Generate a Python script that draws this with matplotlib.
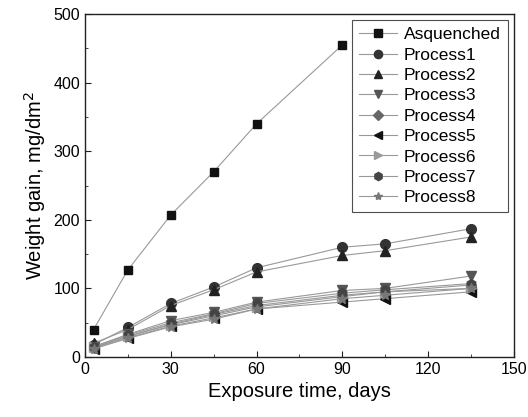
import matplotlib
matplotlib.use("Agg")
import matplotlib.pyplot as plt
from matplotlib.ticker import MultipleLocator

plt.rcParams['font.family'] = ['Liberation Sans', 'DejaVu Sans']

days = [3, 15, 30, 45, 60, 90, 105, 135]
days_aq = [3, 15, 30, 45, 60, 90]
asquenched = [40, 127, 207, 270, 340, 455]
process1 = [18, 43, 78, 102, 130, 160, 165, 187]
process2 = [20, 40, 75, 98, 124, 148, 155, 175]
process3 = [15, 33, 53, 65, 80, 97, 100, 118]
process4 = [13, 30, 48, 62, 75, 90, 95, 105]
process5 = [12, 28, 45, 57, 70, 80, 85, 95]
process6 = [14, 30, 47, 60, 73, 88, 95, 100]
process7 = [15, 32, 50, 63, 78, 93, 98, 107]
process8 = [12, 27, 44, 55, 70, 85, 90, 100]

series = [
    ("Asquenched", days_aq, asquenched, 's', '#111111', 6),
    ("Process1", days, process1, 'o', '#333333', 7),
    ("Process2", days, process2, '^', '#222222', 7),
    ("Process3", days, process3, 'v', '#555555', 7),
    ("Process4", days, process4, 'D', '#666666', 5.5),
    ("Process5", days, process5, '<', '#111111', 7),
    ("Process6", days, process6, '>', '#9a9a9a', 7),
    ("Process7", days, process7, 'h', '#444444', 7),
    ("Process8", days, process8, '*', '#777777', 7),
]

fig = plt.figure(figsize=(5.28, 4.17), dpi=100)
ax = fig.add_axes([0.161, 0.144, 0.812, 0.822])

for name, x, y, m, c, ms in series:
    ax.plot(x, y, marker=m, color='#999999', lw=0.8, markerfacecolor=c,
            markeredgecolor=c, markersize=ms, label=name)

ax.set_xlim(0, 150)
ax.set_ylim(0, 500)
ax.xaxis.set_major_locator(MultipleLocator(30))
ax.xaxis.set_minor_locator(MultipleLocator(15))
ax.yaxis.set_major_locator(MultipleLocator(100))
ax.yaxis.set_minor_locator(MultipleLocator(50))
ax.tick_params(which='both', direction='in', labelsize=11.5, color='#222222')
ax.tick_params(which='major', length=4)
ax.tick_params(which='minor', length=2.5)
for s in ax.spines.values():
    s.set_linewidth(1.0)
    s.set_color('#222222')

ax.set_xlabel("Exposure time, days", fontsize=14.5)
ax.set_ylabel("Weight gain, mg/dm$^2$", fontsize=14.5)

leg = ax.legend(loc='upper right', fontsize=12.5, frameon=True, fancybox=False,
                edgecolor='#222222', handlelength=2.2, borderpad=0.4,
                labelspacing=0.3, handletextpad=0.4, borderaxespad=0.35,
                markerscale=0.85)
leg.get_frame().set_linewidth(0.8)

fig.savefig("out.png", dpi=100)
